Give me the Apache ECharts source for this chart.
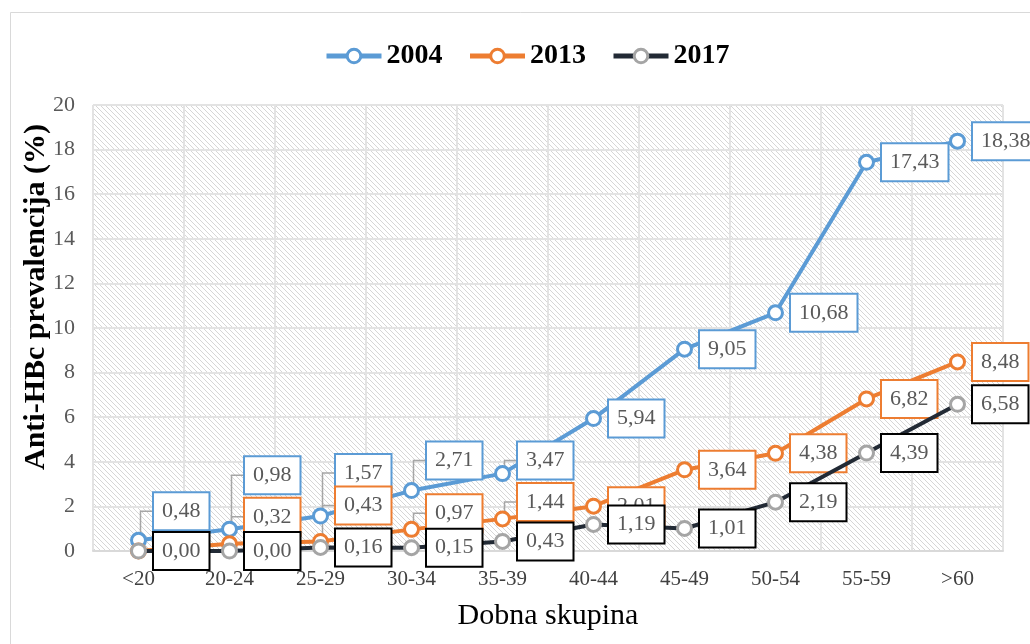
<!DOCTYPE html>
<html>
<head>
<meta charset="utf-8">
<script src="https://cdn.jsdelivr.net/npm/echarts@6/dist/echarts.min.js"></script>
<style>html,body{margin:0;padding:0;background:#fff}#c{width:1030px;height:644px}</style>
</head>
<body>
<div id="c"></div>
<script>
const categories = ['<20','20-24','25-29','30-34','35-39','40-44','45-49','50-54','55-59','>60'];
const seriesNames = ['2004','2013','2017'];
const values2004 = [0.48,0.98,1.57,2.71,3.47,5.94,9.05,10.68,17.43,18.38];
const values2013 = [0.00,0.32,0.43,0.97,1.44,2.01,3.64,4.38,6.82,8.48];
const values2017 = [0.00,0.00,0.16,0.15,0.43,1.19,1.01,2.19,4.39,6.58];
// vertical shifts of the data-label boxes (px), as placed in the reference
const labelShift2004 = [-29,-54,-43,-30,-13,0,0,0,0,0];
const labelShift2013 = [0,-27,-36,-16,-17,0,0,0,0,0];
const labelShift2017 = [0,0,0,0,0,0,0,0,0,0];
const hiddenLabels2013 = [0];

const serif = '"Liberation Serif","Times New Roman",serif';
const SYM = 14, LDIST = 7;

// hatch pattern
const pc = document.createElement('canvas');
pc.width = 5; pc.height = 5;
const g = pc.getContext('2d');
g.fillStyle = '#ffffff'; g.fillRect(0,0,5,5);
g.strokeStyle = '#d6d6d6'; g.lineWidth = 1;
g.beginPath(); g.moveTo(-1,-1); g.lineTo(6,6); g.moveTo(-1,4); g.lineTo(1,6); g.moveTo(4,-1); g.lineTo(6,1); g.stroke();

const colors = {
  '2004': {line:'#5B9BD5', marker:'#5B9BD5', box:'#5B9BD5'},
  '2013': {line:'#ED7D31', marker:'#ED7D31', box:'#ED7D31'},
  '2017': {line:'#222A35', marker:'#A5A5A5', box:'#000000'}
};
const allValues = [values2004, values2013, values2017];
const shifts = [labelShift2004, labelShift2013, labelShift2017];
const fmt = v => v.toFixed(2).replace('.', ',');

function mkSeries(name, vals, idx) {
  const c = colors[name];
  return {
    name: name,
    type: 'line',
    data: vals.map((v,i) => {
      const d = {value: v};
      if (name === '2013' && hiddenLabels2013.includes(i)) d.label = {show:false};
      return d;
    }),
    symbol: 'circle',
    symbolSize: SYM,
    showAllSymbol: true,
    z: 2 + idx,
    lineStyle: {color: c.line, width: 4},
    itemStyle: {color: '#ffffff', borderColor: c.marker, borderWidth: 3},
    label: {
      show: true,
      position: 'right',
      distance: LDIST,
      formatter: p => fmt(p.value),
      fontFamily: serif,
      fontSize: 22,
      color: '#595959',
      backgroundColor: '#ffffff',
      borderColor: c.box,
      borderWidth: 2,
      padding: [8, 8, 6, 8]
    },
    labelLayout: function (p) {
      const dy = shifts[idx][p.dataIndex] || 0;
      return dy ? {dy: dy} : {};
    },
    emphasis: {disabled: true}
  };
}

const chart = echarts.init(document.getElementById('c'), null, {renderer: 'canvas'});
const option = {
  animation: false,
  backgroundColor: '#ffffff',
  color: ['#5B9BD5','#ED7D31','#222A35'],
  legend: {
    top: 37,
    left: 319,
    itemWidth: 55,
    itemHeight: 17,
    itemGap: 25,
    data: seriesNames,
    lineStyle: {width: 5},
    itemStyle: {borderWidth: 3},
    textStyle: {fontFamily: serif, fontSize: 28, fontWeight: 'bold', color: '#000000'}
  },
  grid: {
    left: 93, right: 27, top: 105, bottom: 93,
    show: true,
    backgroundColor: {image: pc, repeat: 'repeat'},
    borderWidth: 0
  },
  xAxis: {
    type: 'category',
    data: categories,
    boundaryGap: true,
    name: 'Dobna skupina',
    nameLocation: 'middle',
    nameGap: 50,
    nameTextStyle: {fontFamily: serif, fontSize: 30, color: '#000000'},
    axisLine: {show: true, lineStyle: {color: '#d9d9d9', width: 2}},
    axisTick: {show: false},
    axisLabel: {fontFamily: serif, fontSize: 21, color: '#404040', margin: 18},
    splitLine: {show: true, interval: 0, lineStyle: {color: '#e3e3e3', width: 2}}
  },
  yAxis: {
    type: 'value',
    min: 0, max: 20, interval: 2,
    axisLine: {show: false},
    axisTick: {show: false},
    axisLabel: {fontFamily: serif, fontSize: 22, color: '#595959', margin: 18},
    splitLine: {show: true, lineStyle: {color: '#e3e3e3', width: 2}}
  },
  series: [
    mkSeries('2004', values2004, 0),
    mkSeries('2013', values2013, 1),
    mkSeries('2017', values2017, 2)
  ]
};
chart.setOption(option);

// frame, rotated y title and elbow leader lines (from library pixel positions)
const graphics = [{
  type: 'rect', silent: true, z: -10,
  shape: {x: 10.5, y: 12.5, width: 1030, height: 640},
  style: {fill: 'none', stroke: '#d9d9d9', lineWidth: 1}
}, {
  type: 'text', silent: true,
  x: 36, y: 297, rotation: Math.PI / 2,
  style: {text: 'Anti-HBc prevalencija (%)', fontFamily: serif, fontSize: 30, fontWeight: 'bold',
          fill: '#000000', align: 'center', verticalAlign: 'middle'}
}];
allValues.forEach((vals, si) => {
  vals.forEach((v, i) => {
    const dy = shifts[si][i];
    if (!dy) return;
    const pt = chart.convertToPixel({seriesIndex: si}, [i, v]);
    const px = pt[0], py = pt[1];
    const ly = py + dy;
    const lx = px + SYM / 2 + LDIST;
    const top = py - SYM / 2;
    const pts = ly < top ? [[px + 2, top], [px + 2, ly], [lx, ly]] : [[px, py], [lx, ly]];
    graphics.push({
      type: 'polyline', silent: true, z: 1,
      shape: {points: pts},
      style: {stroke: '#A6A6A6', lineWidth: 1.5, fill: 'none'}
    });
  });
});
chart.setOption({graphic: graphics});
</script>
</body>
</html>
